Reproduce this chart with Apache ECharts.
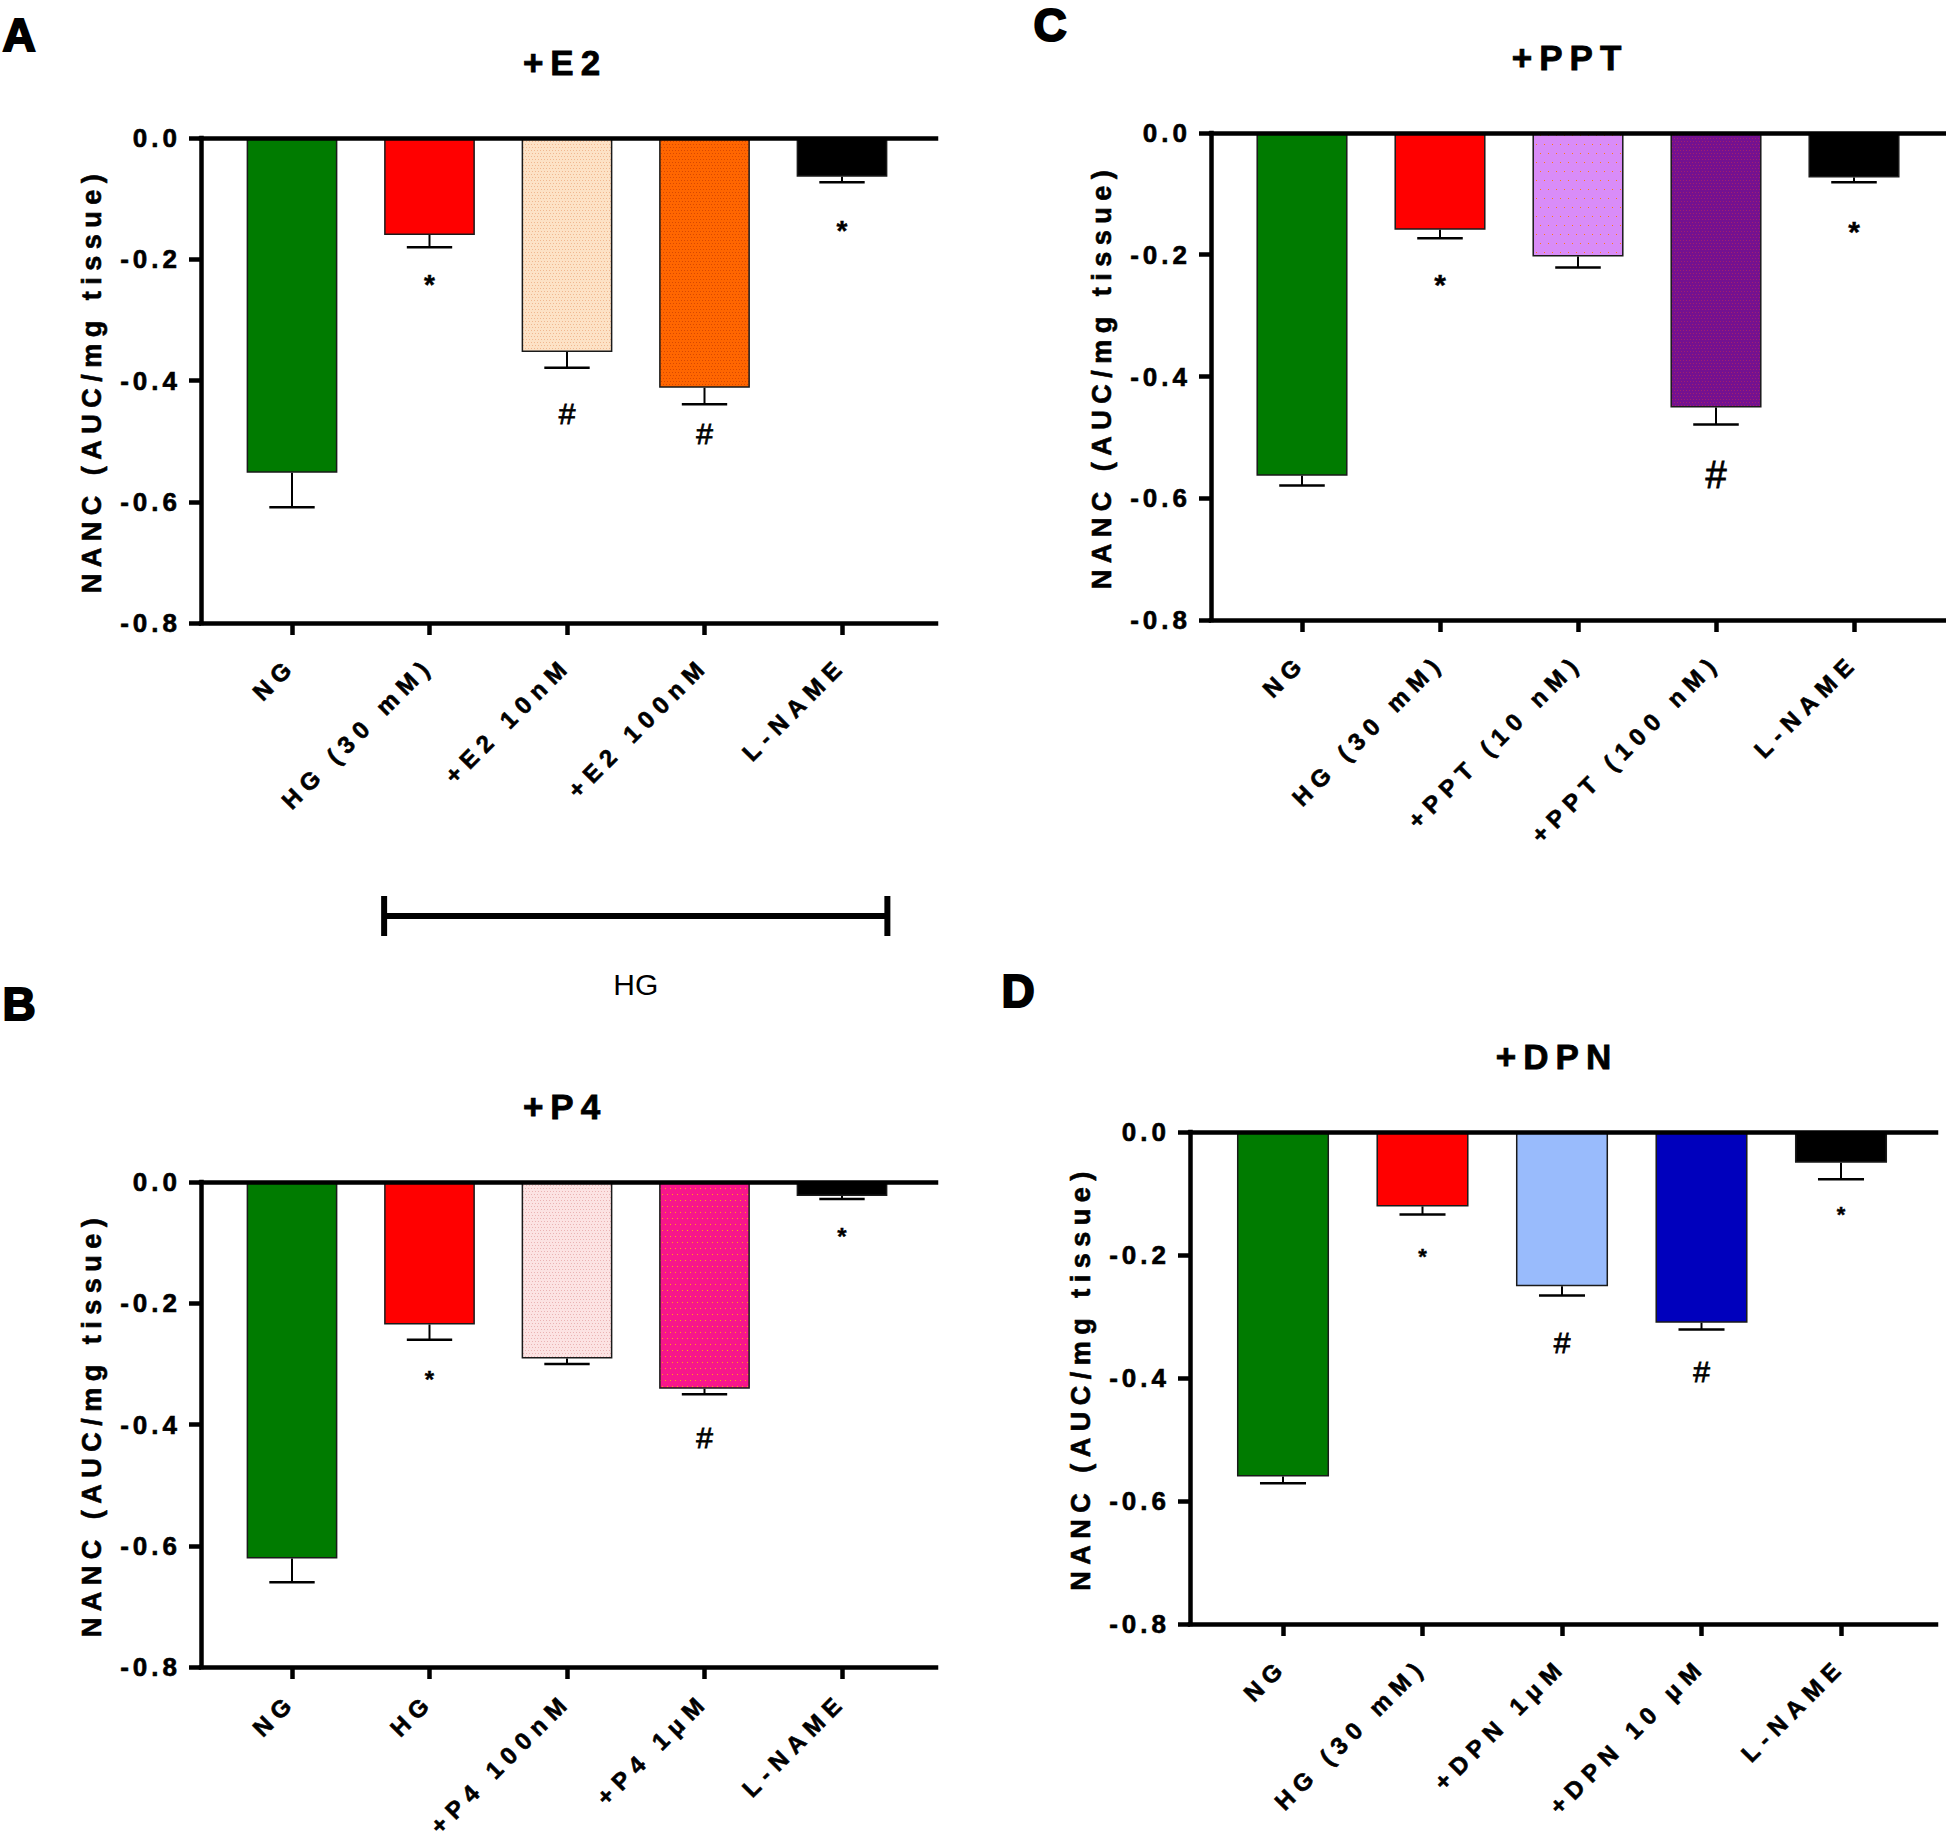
<!DOCTYPE html>
<html>
<head>
<meta charset="utf-8">
<script src="https://cdn.jsdelivr.net/npm/echarts@6/dist/echarts.min.js"></script>
<style>
  html, body { margin: 0; padding: 0; background: #ffffff; }
  #c { width: 1946px; height: 1840px; }
  svg text[style*="lsTick"] { letter-spacing: 4px; }
  svg text[style*="lsCat"]  { letter-spacing: 7px; }
  svg text[style*="lsName"] { letter-spacing: 6.5px; }
  svg text[style*="lsTitle"]{ letter-spacing: 7px; }
</style>
</head>
<body>
<div id="c"></div>
<script>
// ---------------- DATA ----------------
// Panel A : +E2
const titleA = '+E2';
const catsA  = ['NG', 'HG (30 mM)', '+E2 10nM', '+E2 100nM', 'L-NAME'];
const meanA  = [-0.552, -0.160, -0.353, -0.412, -0.064];
const semA   = [0.057, 0.020, 0.026, 0.027, 0.009];
const marksA = ['', '*', '#', '#', '*'];
const markYA = [null, -0.233, -0.455, -0.488, -0.144];

// Panel C : +PPT
const titleC = '+PPT';
const catsC  = ['NG', 'HG (30 mM)', '+PPT (10 nM)', '+PPT (100 nM)', 'L-NAME'];
const meanC  = [-0.563, -0.159, -0.203, -0.451, -0.073];
const semC   = [0.016, 0.014, 0.018, 0.028, 0.008];
const marksC = ['', '*', '', '#', '*'];
const markYC = [null, -0.239, null, -0.561, -0.152];

// Panel B : +P4
const titleB = '+P4';
const catsB  = ['NG', 'HG', '+P4 100nM', '+P4 1\u03bcM', 'L-NAME'];
const meanB  = [-0.621, -0.235, -0.291, -0.341, -0.023];
const semB   = [0.039, 0.025, 0.009, 0.009, 0.005];
const marksB = ['', '*', '', '#', '*'];
const markYB = [null, -0.318, null, -0.421, -0.082];

// Panel D : +DPN
const titleD = '+DPN';
const catsD  = ['NG', 'HG (30 mM)', '+DPN 1\u03bcM', '+DPN 10 \u03bcM', 'L-NAME'];
const meanD  = [-0.560, -0.121, -0.251, -0.310, -0.050];
const semD   = [0.011, 0.013, 0.015, 0.011, 0.027];
const marksD = ['', '*', '#', '#', '*'];
const markYD = [null, -0.196, -0.343, -0.389, -0.127];

// shared axis
const yTickLabels = ['0.0', '-0.2', '-0.4', '-0.6', '-0.8'];
const yName = 'NANC (AUC/mg tissue)';
const groupLabel = 'HG';

// ---------------- STYLES / LAYOUT ----------------
// dotted fill textures (base colour + sparse dots), like the original bar patterns
function dotted(base, dot, sx, sy, stagger) {
  const cv = document.createElement('canvas');
  cv.width = sx * 2; cv.height = sy * 2;
  const g = cv.getContext('2d');
  g.fillStyle = base; g.fillRect(0, 0, cv.width, cv.height);
  g.fillStyle = dot;
  for (let r = 0; r < 2; r++) for (let c = 0; c < 2; c++) {
    const ox = (r % 2 && stagger) ? Math.floor(sx / 2) : 0;
    g.fillRect(c * sx + ox, r * sy, 1, 1);
  }
  return { image: cv, repeat: 'repeat' };
}
const colorsA = ['#007b00', '#ff0000', dotted('#fde2c6', '#f0b890', 3, 3, true), dotted('#ff6600', '#d84800', 3, 3, true), '#000000'];
const colorsC = ['#007b00', '#ff0000', dotted('#d98cf8', '#ff7a10', 8, 9, true), dotted('#741190', '#a0206e', 3, 3, true), '#000000'];
const colorsB = ['#007b00', '#ff0000', dotted('#fce3e3', '#eab4b4', 3, 3, true), dotted('#f7168b', '#ffa010', 5, 6, true), '#000000'];
const colorsD = ['#007b00', '#ff0000', '#99bbfc', '#0000bd', '#000000'];

const panels = [
  { letter: 'A', title: titleA, cats: catsA, mean: meanA, sem: semA, marks: marksA, markY: markYA, colors: colorsA,
    L: { left: 201, top: 138, width: 735, height: 485, innerLeft: 223.25, innerWidth: 687.5, title: [565, 62], letterPos: [19, 35], hash: 30, star: 28, catMargin: 38 } },
  { letter: 'C', title: titleC, cats: catsC, mean: meanC, sem: semC, marks: marksC, markY: markYC, colors: colorsC,
    L: { left: 1211, top: 133, width: 735, height: 487, innerLeft: 1233, innerWidth: 690, title: [1570, 57], letterPos: [1050, 25], hash: 38, star: 30, catMargin: 38 } },
  { letter: 'B', title: titleB, cats: catsB, mean: meanB, sem: semB, marks: marksB, markY: markYB, colors: colorsB,
    L: { left: 201, top: 1182, width: 735, height: 485, innerLeft: 223.25, innerWidth: 687.5, title: [565, 1106], letterPos: [19, 1004], hash: 30, star: 24, catMargin: 30 } },
  { letter: 'D', title: titleD, cats: catsD, mean: meanD, sem: semD, marks: marksD, markY: markYD, colors: colorsD,
    L: { left: 1190, top: 1132, width: 746, height: 492, innerLeft: 1213.25, innerWidth: 697.5, title: [1557, 1056], letterPos: [1018, 991], hash: 30, star: 22, catMargin: 38 } }
];

const FONT = 'Liberation Sans';
const BAR_FRAC = 0.66;
const AXW = 4.5;
const heavy = { textBorderColor: '#000', textBorderWidth: 0.6 };

const grid = [], xAxis = [], yAxis = [], series = [], graphic = [];

panels.forEach((p, k) => {
  const L = p.L;
  const gOuter = 2 * k, gInner = 2 * k + 1;
  grid.push({ left: L.left, top: L.top, width: L.width, height: L.height, containLabel: false });
  grid.push({ left: L.innerLeft, top: L.top, width: L.innerWidth, height: L.height, containLabel: false });

  const plainX = (pos) => ({
    type: 'value', gridIndex: gOuter, position: pos, min: 0, max: 1, z: 10,
    axisLine: { show: true, onZero: false, lineStyle: { color: '#000', width: AXW, cap: 'square' } },
    axisTick: { show: false }, axisLabel: { show: false }, splitLine: { show: false }
  });
  xAxis.push(plainX('bottom'));
  xAxis.push(plainX('top'));
  const xi = xAxis.length;
  xAxis.push({
    type: 'category', gridIndex: gInner, data: p.cats, position: 'bottom', z: 10,
    boundaryGap: true,
    axisLine: { show: false, onZero: false },
    axisTick: { show: true, alignWithLabel: true, length: 12, lineStyle: { color: '#000', width: AXW } },
    axisLabel: Object.assign({ interval: 0, rotate: 45, margin: L.catMargin, color: '#000', fontSize: 24, fontWeight: 'bold', fontFamily: FONT + ', lsCat' }, heavy),
    splitLine: { show: false }
  });

  yAxis.push({
    type: 'value', gridIndex: gOuter, min: -0.8, max: 0, interval: 0.2, z: 10,
    axisLine: { show: true, onZero: false, lineStyle: { color: '#000', width: AXW, cap: 'square' } },
    axisTick: { show: true, length: 12, lineStyle: { color: '#000', width: AXW } },
    axisLabel: Object.assign({
      margin: 20, color: '#000', fontSize: 26, fontWeight: 'bold', fontFamily: FONT + ', lsTick',
      formatter: v => yTickLabels[Math.round(-v / 0.2)]
    }, heavy),
    splitLine: { show: false },
    name: yName, nameLocation: 'middle', nameGap: 96, nameRotate: 90,
    nameTextStyle: Object.assign({ color: '#000', fontSize: 27, fontWeight: 'bold', fontFamily: FONT + ', lsName' }, heavy)
  });
  const yi = yAxis.length;
  yAxis.push({ type: 'value', gridIndex: gInner, min: -0.8, max: 0, show: false, splitLine: { show: false } });

  // bars
  series.push({
    type: 'bar', xAxisIndex: xi, yAxisIndex: yi, barWidth: (BAR_FRAC * 100) + '%',
    data: p.mean.map((v, i) => ({ value: v, itemStyle: { color: p.colors[i] } })),
    itemStyle: { borderColor: '#1a1a1a', borderWidth: 1.5 },
    z: 2
  });
  // error bars
  series.push({
    type: 'custom', xAxisIndex: xi, yAxisIndex: yi, z: 4,
    data: p.mean.map((v, i) => [i, v, p.sem[i]]),
    renderItem: (params, api) => {
      const x = api.value(0), m = api.value(1), s = api.value(2);
      const a = api.coord([x, m]);
      const b = api.coord([x, m - s]);
      const half = api.size([1, 0])[0] * BAR_FRAC / 4;
      return { type: 'group', children: [
        { type: 'line', shape: { x1: a[0], y1: a[1], x2: b[0], y2: b[1] }, style: { stroke: '#000', lineWidth: 2 } },
        { type: 'line', shape: { x1: b[0] - half, y1: b[1], x2: b[0] + half, y2: b[1] }, style: { stroke: '#000', lineWidth: 2.5 } }
      ] };
    }
  });
  // significance marks
  const md = [], ms = [];
  p.marks.forEach((m, i) => { if (m) { md.push([i, p.markY[i]]); ms.push(m); } });
  series.push({
    type: 'custom', xAxisIndex: xi, yAxisIndex: yi, z: 4,
    data: md,
    renderItem: (params, api) => {
      const sym = ms[params.dataIndex];
      const c = api.coord([api.value(0), api.value(1)]);
      const isStar = sym === '*';
      const size = isStar ? L.star : L.hash;
      return { type: 'text', x: c[0], y: c[1] + (isStar ? size * 0.2 : 0),
        style: { text: sym, fill: '#000', stroke: '#000', lineWidth: isStar ? 0.4 : 0.8, align: 'center', verticalAlign: 'middle',
          font: (isStar ? 'bold ' : 'normal ') + size + 'px ' + FONT } };
    }
  });

  // titles & panel letters
  graphic.push({ type: 'text', x: L.title[0], y: L.title[1],
    style: { text: p.title, fill: '#000', stroke: '#000', lineWidth: 0.8, align: 'center', verticalAlign: 'middle', font: 'bold 35px ' + FONT + ', lsTitle' } });
  graphic.push({ type: 'text', x: L.letterPos[0], y: L.letterPos[1],
    style: { text: p.letter, fill: '#000', stroke: '#000', lineWidth: 2, align: 'center', verticalAlign: 'middle', font: 'bold 46px ' + FONT } });
  p._xi = xi; p._yi = yi;
});

const chart = echarts.init(document.getElementById('c'), null, { renderer: 'svg', width: 1946, height: 1840 });
chart.setOption({ animation: false, backgroundColor: '#ffffff', grid, xAxis, yAxis, series, graphic });

// bracket under panel A spanning HG .. L-NAME bars (derived from axis scale)
const pA = panels[0];
const c1 = chart.convertToPixel({ xAxisIndex: pA._xi, yAxisIndex: pA._yi }, [1, 0]);
const c0 = chart.convertToPixel({ xAxisIndex: pA._xi, yAxisIndex: pA._yi }, [0, 0]);
const c4 = chart.convertToPixel({ xAxisIndex: pA._xi, yAxisIndex: pA._yi }, [4, 0]);
const halfBar = (c1[0] - c0[0]) * BAR_FRAC / 2;
const bx1 = c1[0] - halfBar, bx2 = c4[0] + halfBar;
const by = 916, tickH = 20;
graphic.push({ type: 'line', shape: { x1: bx1, y1: by, x2: bx2, y2: by }, style: { stroke: '#000', lineWidth: 6 } });
graphic.push({ type: 'line', shape: { x1: bx1, y1: by - tickH, x2: bx1, y2: by + tickH }, style: { stroke: '#000', lineWidth: 6 } });
graphic.push({ type: 'line', shape: { x1: bx2, y1: by - tickH, x2: bx2, y2: by + tickH }, style: { stroke: '#000', lineWidth: 6 } });
graphic.push({ type: 'text', x: (bx1 + bx2) / 2, y: 984,
  style: { text: groupLabel, fill: '#000', align: 'center', verticalAlign: 'middle', font: 'normal 30px ' + FONT } });
chart.setOption({ graphic });
</script>
</body>
</html>
